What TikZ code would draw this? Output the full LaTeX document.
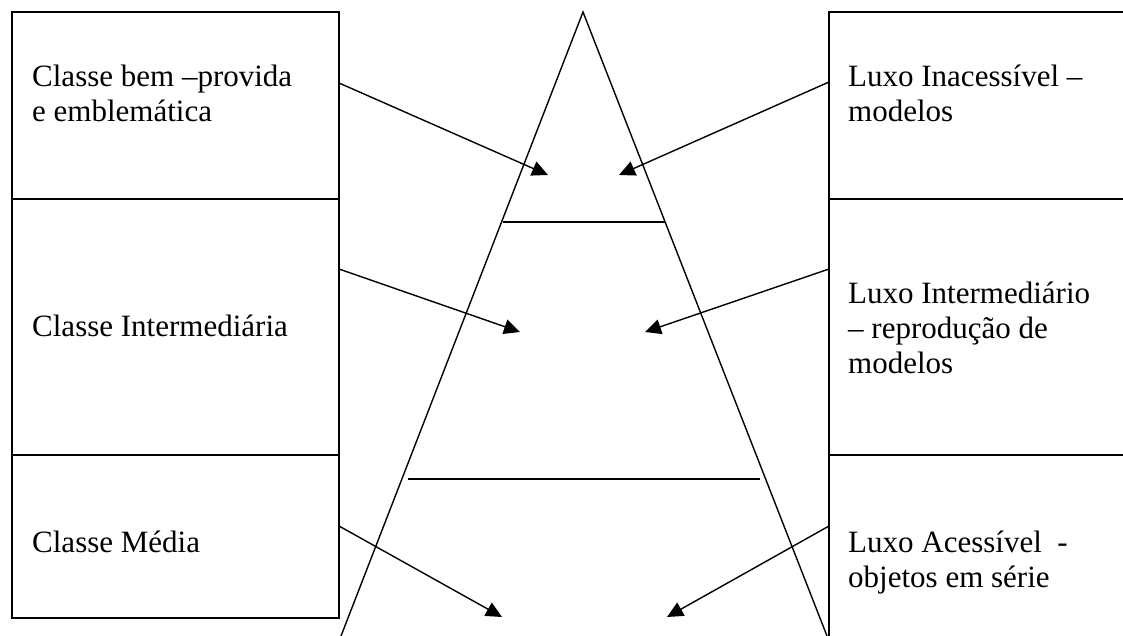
\documentclass[tikz,border=0pt]{standalone}
\usepackage{fontspec}
\setmainfont{Liberation Serif}
\usetikzlibrary{arrows.meta}
\begin{document}
\begin{tikzpicture}[x=1pt,y=-1pt,
  box/.style={draw, line width=1.4pt, rectangle, inner sep=0pt, outer sep=0pt, anchor=north west},
  lbl/.style={inner sep=0pt, anchor=base west, align=left,
    font=\fontsize{31}{35}\selectfont},
  edge/.style={line width=1.4pt},
  arr/.style={line width=1.4pt, -{Triangle[length=16pt,width=15pt]}}]
\useasboundingbox (0,0) rectangle (1123,636);
\clip (0,0) rectangle (1123,636);

% left column: social classes
\node[box, minimum width=327pt, minimum height=187pt] (lb1) at (12,12) {};
\node[box, minimum width=327pt, minimum height=256pt] (lb2) at (12,199) {};
\node[box, minimum width=327pt, minimum height=163pt] (lb3) at (12,455) {};

% right column: luxury levels (open to the right and bottom)
\node[box, minimum width=320pt, minimum height=187pt] (rb1) at (829,12) {};
\node[box, minimum width=320pt, minimum height=256pt] (rb2) at (829,199) {};
\node[box, minimum width=320pt, minimum height=200pt] (rb3) at (829,455) {};

% texts (anchored at the baseline of their last line)
\node[lbl] (lt1) at (32,122) {Classe bem –provida\\e emblemática};
\node[lbl] (lt2) at (32,336) {Classe Intermediária};
\node[lbl] (lt3) at (32,552) {Classe Média};
\node[lbl] (rt1) at (848,122) {Luxo Inacessível –\\modelos};
\node[lbl] (rt2) at (848,373) {Luxo Intermediário\\– reprodução de\\modelos};
\node[lbl] (rt3) at (848,587) {Luxo Acessível \ -\\objetos em série};

% pyramid
\coordinate (apex) at (583,12);
\coordinate (bl) at (341,636);
\coordinate (br) at (827,636);
\draw[edge] (bl) -- (apex) -- (br);
\coordinate (s1l) at (503,222);
\coordinate (s1r) at (665,222);
\coordinate (s2l) at (408,479);
\coordinate (s2r) at (760,479);
\draw[edge] (s1l) -- (s1r);
\draw[edge] (s2l) -- (s2r);

% arrow targets inside the pyramid
\coordinate (p1l) at (548,175);
\coordinate (p1r) at (619,175);
\coordinate (p2l) at (520,332);
\coordinate (p2r) at (645,332);
\coordinate (p3l) at (502,617);
\coordinate (p3r) at (667,617);

\draw[arr] ([yshift=-71pt]lb1.north east) -- (p1l);
\draw[arr] ([yshift=-70pt]rb1.north west) -- (p1r);
\draw[arr] ([yshift=-70pt]lb2.north east) -- (p2l);
\draw[arr] ([yshift=-70pt]rb2.north west) -- (p2r);
\draw[arr] ([yshift=-71pt]lb3.north east) -- (p3l);
\draw[arr] ([yshift=-71pt]rb3.north west) -- (p3r);
\end{tikzpicture}
\end{document}
